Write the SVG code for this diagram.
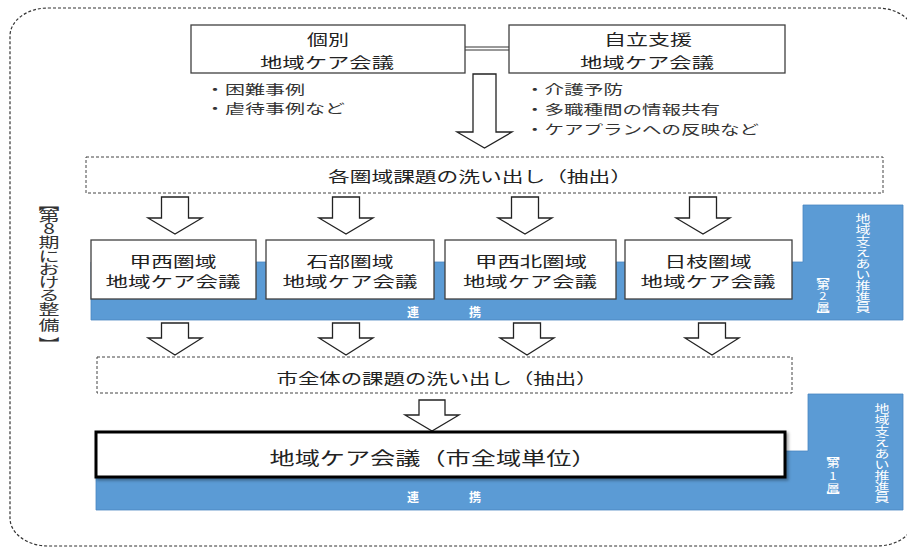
<svg xmlns="http://www.w3.org/2000/svg" width="907" height="549" viewBox="0 0 907 549">
<style>
.t{font-family:"Noto Sans CJK JP","Noto Sans",sans-serif;fill:#222;dominant-baseline:central;text-anchor:middle}
.ts{font-family:"Noto Sans CJK JP","Noto Sans",sans-serif;fill:#333;dominant-baseline:central;text-anchor:start}
.w{font-family:"Noto Sans CJK JP","Noto Sans",sans-serif;fill:#fff;dominant-baseline:central;text-anchor:middle;font-weight:bold}
.vw{font-family:"Noto Sans CJK JP","Noto Sans",sans-serif;fill:#fff;dominant-baseline:central;text-anchor:middle}
.vk{font-family:"Noto Sans CJK JP","Noto Sans",sans-serif;fill:#333;dominant-baseline:central;text-anchor:middle}
.box{fill:#fff;stroke:#404040;stroke-width:1.3}
.dash{fill:#fff;stroke:#444;stroke-width:1;stroke-dasharray:3 2}
.arr{fill:#fff;stroke:#222;stroke-width:1.3;stroke-linejoin:miter}
.band{fill:#5b9bd5;stroke:#4a86c0;stroke-width:0.8}
</style>
<defs>
<path id="a1" d="M-13.5,0 H13.5 V21 H27 L0,37 L-27,21 H-13.5 Z"/>
<path id="a2" d="M-13.5,0 H13.5 V15 H27 L0,32 L-27,15 H-13.5 Z"/>
<filter id="sh" x="-5%" y="-20%" width="110%" height="140%"><feDropShadow dx="2" dy="2" stdDeviation="1.5" flood-color="#000" flood-opacity="0.35"/></filter>
</defs>

<rect x="10" y="8" width="905" height="538" rx="38" ry="28" fill="none" stroke="#333" stroke-width="1.2" stroke-dasharray="3 2"/>

<g id="label-8ki" transform="translate(49,0) scale(1.5,1)">
<text class="vk" font-size="14"><tspan x="0" y="203">︻</tspan><tspan x="0" y="215">第</tspan><tspan x="0" y="228">8</tspan><tspan x="0" y="241">期</tspan><tspan x="0" y="255">に</tspan><tspan x="0" y="268">お</tspan><tspan x="0" y="281">け</tspan><tspan x="0" y="294">る</tspan><tspan x="0" y="308">整</tspan><tspan x="0" y="324">備</tspan><tspan x="0" y="343">︼</tspan></text>
</g>

<g id="bands">
<path class="band" d="M91,262 H803 V205 H903 V320 H91 Z"/>
<path class="band" d="M96,451 H808 V394 H903 V510 H96 Z"/>
<text class="w" x="413" y="311" font-size="12">連</text>
<text class="w" x="475" y="311" font-size="12">携</text>
<text class="w" x="413" y="496" font-size="12">連</text>
<text class="w" x="475" y="496" font-size="12">携</text>
<g id="suishin2" transform="translate(863,0) scale(1.3,1)">
<text class="vw" font-size="11.5"><tspan x="0" y="218">地</tspan><tspan x="0" y="229">域</tspan><tspan x="0" y="240">支</tspan><tspan x="0" y="251">え</tspan><tspan x="0" y="263">あ</tspan><tspan x="0" y="274">い</tspan><tspan x="0" y="285">推</tspan><tspan x="0" y="296">進</tspan><tspan x="0" y="307">員</tspan></text>
</g>
<g id="so2" transform="translate(823,0) scale(1.25,1)">
<text class="vw" font-size="10.5"><tspan x="0" y="275">︻</tspan><tspan x="0" y="284">第</tspan><tspan x="0" y="295">2</tspan><tspan x="0" y="306">層</tspan><tspan x="0" y="314">︼</tspan></text>
</g>
<g id="suishin1" transform="translate(882,0) scale(1.3,1)">
<text class="vw" font-size="11.5"><tspan x="0" y="408">地</tspan><tspan x="0" y="419">域</tspan><tspan x="0" y="430">支</tspan><tspan x="0" y="441">え</tspan><tspan x="0" y="453">あ</tspan><tspan x="0" y="464">い</tspan><tspan x="0" y="475">推</tspan><tspan x="0" y="486">進</tspan><tspan x="0" y="497">員</tspan></text>
</g>
<g id="so1" transform="translate(833,0) scale(1.25,1)">
<text class="vw" font-size="10.5"><tspan x="0" y="454">︻</tspan><tspan x="0" y="462">第</tspan><tspan x="0" y="475">1</tspan><tspan x="0" y="487">層</tspan><tspan x="0" y="495">︼</tspan></text>
</g>
</g>

<g id="connectors">
<line x1="465" y1="47" x2="509" y2="47" stroke="#333" stroke-width="1"/>
<line x1="465" y1="50" x2="509" y2="50" stroke="#333" stroke-width="1"/>
<path class="arr" d="M473,74 H496 V132 H512 L484.5,148 L457,132 H473 Z"/>
<use href="#a1" class="arr" x="175" y="197"/>
<use href="#a1" class="arr" x="346" y="197"/>
<use href="#a1" class="arr" x="525" y="197"/>
<use href="#a1" class="arr" x="703" y="197"/>
<use href="#a2" class="arr" x="175" y="323"/>
<use href="#a2" class="arr" x="346" y="323"/>
<use href="#a2" class="arr" x="527" y="323"/>
<use href="#a2" class="arr" x="712" y="323"/>
<path class="arr" d="M419,400 H445 V415 H459 L432,431 L405,415 H419 Z"/>
</g>

<g id="kobetsu">
<rect class="box" x="191" y="25" width="274" height="48"/>
<text class="t" x="328" y="38" font-size="15" textLength="42" lengthAdjust="spacingAndGlyphs">個別</text>
<text class="t" x="327" y="61" font-size="15" textLength="134" lengthAdjust="spacingAndGlyphs">地域ケア会議</text>
<text class="ts" x="205" y="88" font-size="13" textLength="100" lengthAdjust="spacingAndGlyphs">・困難事例</text>
<text class="ts" x="205" y="107" font-size="13" textLength="140" lengthAdjust="spacingAndGlyphs">・虐待事例など</text>
</g>

<g id="jiritsu">
<rect class="box" x="509" y="25" width="276" height="48"/>
<text class="t" x="648" y="38" font-size="15" textLength="88" lengthAdjust="spacingAndGlyphs">自立支援</text>
<text class="t" x="647" y="61" font-size="15" textLength="134" lengthAdjust="spacingAndGlyphs">地域ケア会議</text>
<text class="ts" x="525" y="88" font-size="13" textLength="98" lengthAdjust="spacingAndGlyphs">・介護予防</text>
<text class="ts" x="525" y="108" font-size="13" textLength="195" lengthAdjust="spacingAndGlyphs">・多職種間の情報共有</text>
<text class="ts" x="525" y="128" font-size="13" textLength="234" lengthAdjust="spacingAndGlyphs">・ケアプランへの反映など</text>
</g>

<g id="kadai1">
<rect class="dash" x="86" y="157" width="797" height="36"/>
<text class="t" x="480" y="175" font-size="15" textLength="304" lengthAdjust="spacingAndGlyphs">各圏域課題の洗い出し（抽出）</text>
</g>

<g id="kosai">
<rect class="box" x="91" y="240" width="165" height="59"/>
<text class="t" x="173" y="260" font-size="15" textLength="87" lengthAdjust="spacingAndGlyphs">甲西圏域</text>
<text class="t" x="173" y="280" font-size="15" textLength="135" lengthAdjust="spacingAndGlyphs">地域ケア会議</text>
</g>
<g id="ishibe">
<rect class="box" x="266" y="240" width="168" height="59"/>
<text class="t" x="350" y="260" font-size="15" textLength="87" lengthAdjust="spacingAndGlyphs">石部圏域</text>
<text class="t" x="350" y="280" font-size="15" textLength="135" lengthAdjust="spacingAndGlyphs">地域ケア会議</text>
</g>
<g id="kosaihoku">
<rect class="box" x="445" y="240" width="171" height="59"/>
<text class="t" x="531" y="260" font-size="15" textLength="112" lengthAdjust="spacingAndGlyphs">甲西北圏域</text>
<text class="t" x="530" y="280" font-size="15" textLength="134" lengthAdjust="spacingAndGlyphs">地域ケア会議</text>
</g>
<g id="hie">
<rect class="box" x="625" y="240" width="167" height="59"/>
<text class="t" x="708" y="260" font-size="15" textLength="87" lengthAdjust="spacingAndGlyphs">日枝圏域</text>
<text class="t" x="708" y="280" font-size="15" textLength="135" lengthAdjust="spacingAndGlyphs">地域ケア会議</text>
</g>

<g id="kadai2">
<rect class="dash" x="97" y="357" width="695" height="36"/>
<text class="t" x="437" y="377" font-size="15" textLength="321" lengthAdjust="spacingAndGlyphs">市全体の課題の洗い出し（抽出）</text>
</g>

<g id="zenshi">
<rect x="96" y="432" width="689" height="45" fill="#fff" stroke="#000" stroke-width="3" filter="url(#sh)"/>
<text class="t" x="433" y="457" font-size="18" textLength="327" lengthAdjust="spacingAndGlyphs">地域ケア会議（市全域単位）</text>
</g>
</svg>
